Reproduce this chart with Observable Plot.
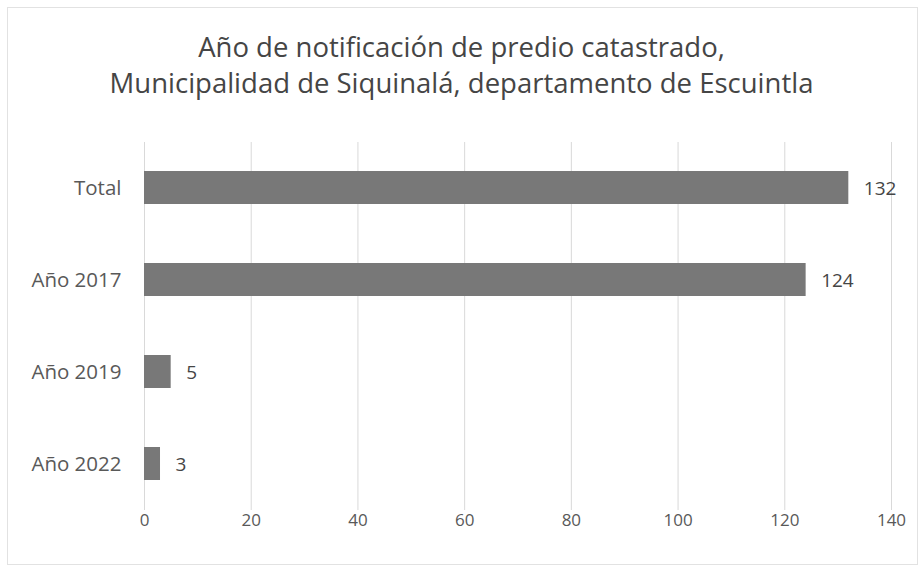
<!DOCTYPE html>
<html>
<head>
<meta charset="utf-8">
<script src="https://cdn.jsdelivr.net/npm/d3@7"></script>
<script src="https://cdn.jsdelivr.net/npm/@observablehq/plot@0.6"></script>
<style>
  body { margin: 0; background: #fff; }
  #wrap { position: relative; width: 923px; height: 570px; background: #fff; overflow: hidden; font-family: "Open Sans", sans-serif; }
  #frame { position: absolute; left: 7px; top: 7px; right: 5px; bottom: 5px; border: 1px solid #e2e2e2; pointer-events: none; }
  #title { position: absolute; left: 0; top: 29px; width: 923px; text-align: center; font-size: 27.5px; line-height: 36px; color: #454545; }
  #chart { position: absolute; left: 0; top: 101px; }
</style>
</head>
<body>
<div id="wrap">
  <div id="frame"></div>
  <div id="title">Año de notificación de predio catastrado,<br>Municipalidad de Siquinalá, departamento de Escuintla</div>
  <div id="chart"></div>
</div>
<script>
const categories = ["Total", "Año 2017", "Año 2019", "Año 2022"];
const values = [132, 124, 5, 3];
const xTicks = [0, 20, 40, 60, 80, 100, 120, 140];

const data = categories.map((c, i) => ({category: c, value: values[i]}));

const chart = Plot.plot({
  width: 923,
  height: 469,
  marginLeft: 144,
  marginRight: 32,
  marginTop: 41,
  marginBottom: 60,
  style: {fontFamily: "Open Sans, sans-serif", fontSize: "18px", color: "#595959", background: "transparent"},
  x: {domain: [0, 140], ticks: xTicks, label: null},
  y: {domain: categories, padding: 0, label: null},
  marks: [
    Plot.gridX(xTicks, {stroke: "#d9d9d9", strokeOpacity: 1}),
    Plot.barX(data, {x: "value", y: "category", fill: "#787878", insetTop: 29, insetBottom: 30}),
    Plot.text(data, {x: "value", y: "category", text: d => String(d.value), textAnchor: "start", dx: 15, fill: "#454545", fontSize: 19}),
    Plot.axisX({ticks: xTicks, tickSize: 0, tickPadding: 3, label: null, fontSize: 17}),
    Plot.axisY({tickSize: 0, tickPadding: 23, label: null, fontSize: 20.5})
  ]
});
document.getElementById("chart").appendChild(chart);
</script>
</body>
</html>
